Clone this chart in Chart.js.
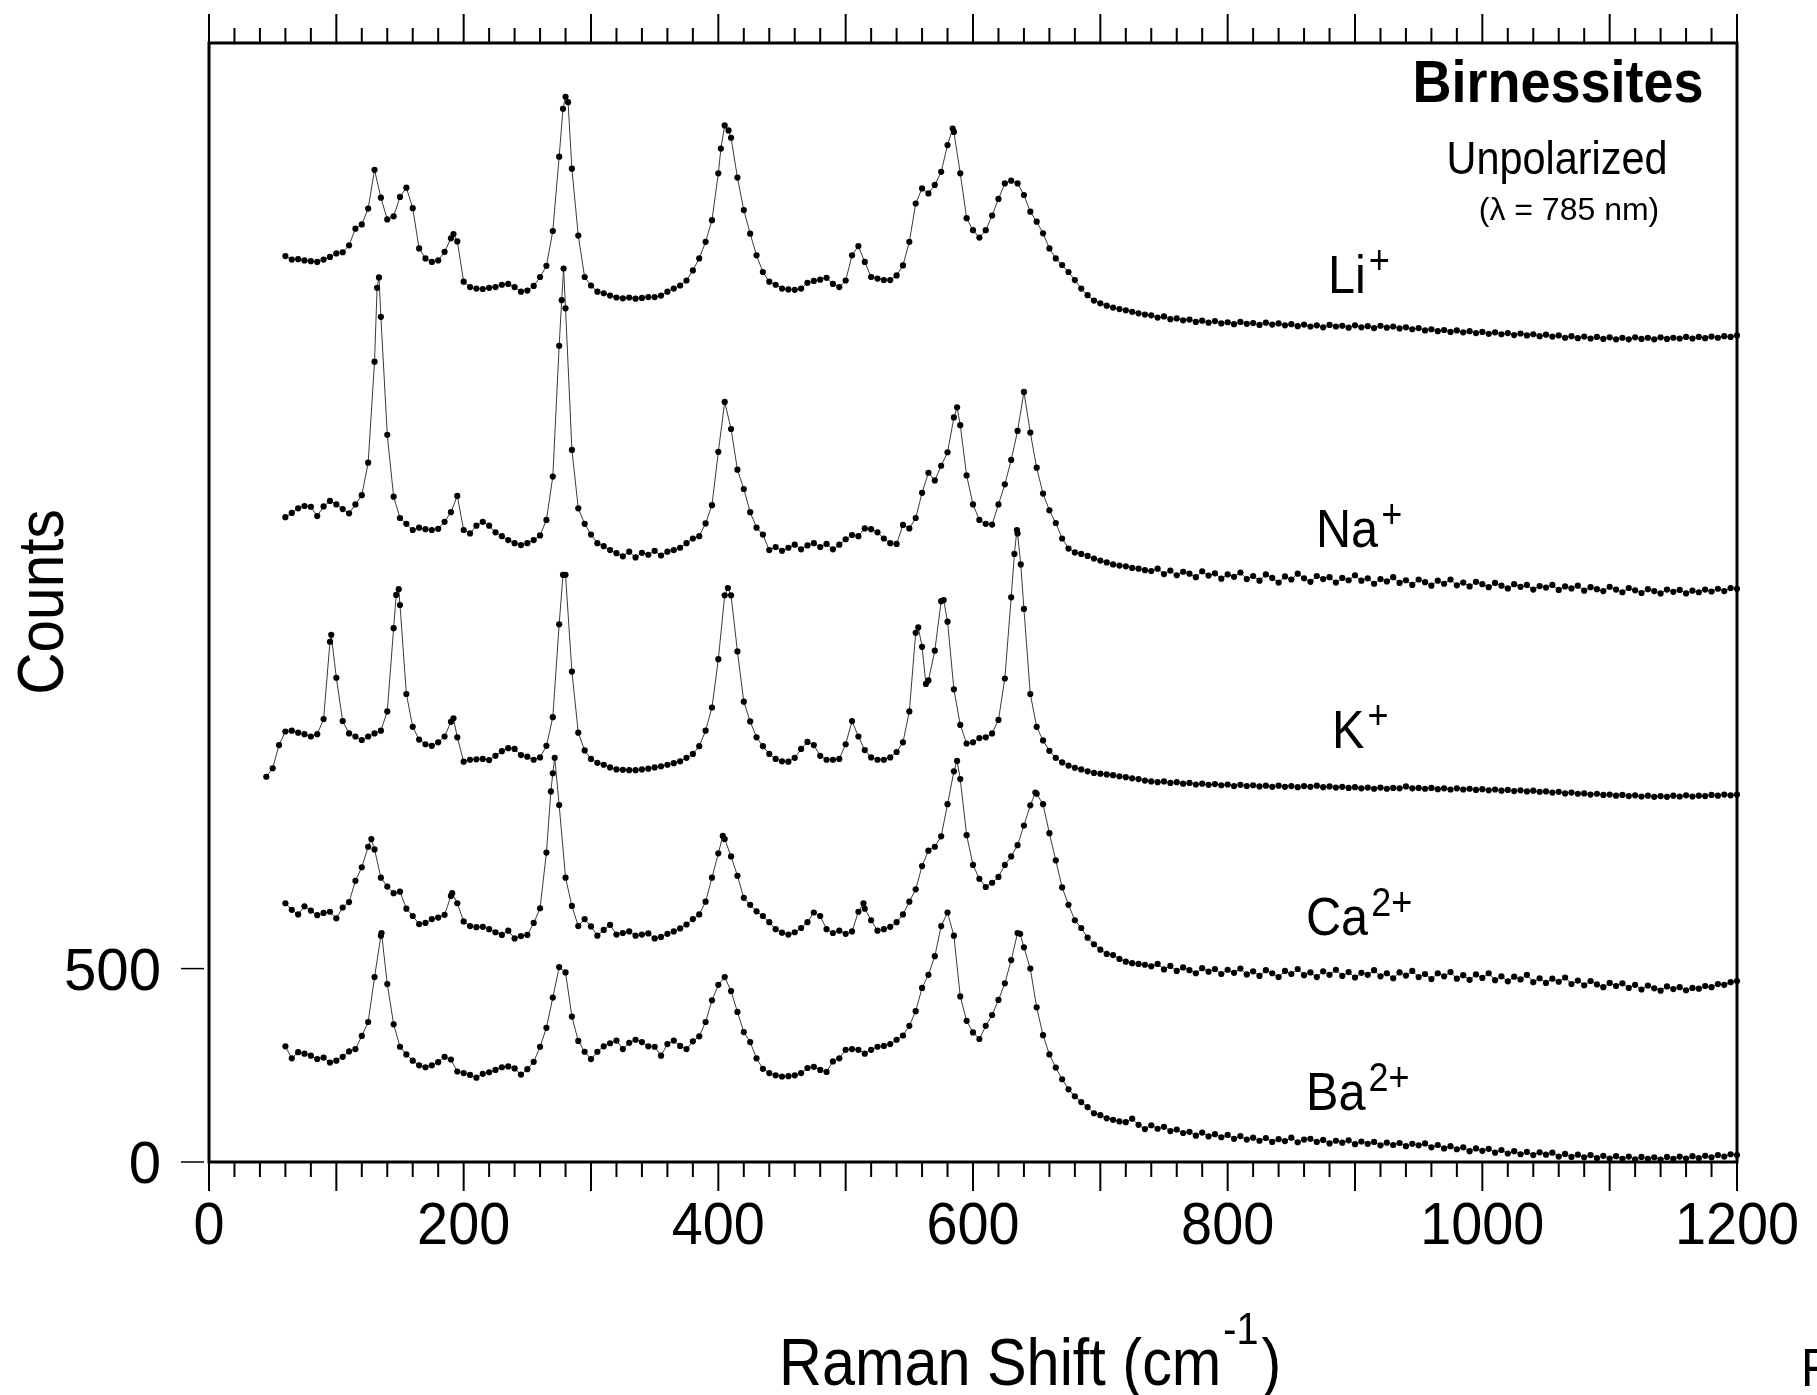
<!DOCTYPE html>
<html>
<head>
<meta charset="utf-8">
<title>Birnessites - Raman spectra</title>
<script src="https://cdn.jsdelivr.net/npm/chart.js@4.4.0/dist/chart.umd.min.js"></script>
<style>
    html, body { margin: 0; padding: 0; background: #fff; }
    canvas { display: block; }
</style>
</head>
<body>
<canvas id="ramanChart" width="1817" height="1395"></canvas>
<script>
// Raman shift grid (cm-1) shared by the five spectra
var shift = [
    60, 65, 70, 75, 80, 85, 90, 95, 100, 105, 110, 115, 120, 125, 130, 135, 140, 145, 150, 155,
    160, 165, 170, 175, 180, 185, 190, 195, 200, 205, 210, 215, 220, 225, 230, 235, 240, 245, 250, 255,
    260, 265, 270, 275, 280, 285, 290, 295, 300, 305, 310, 315, 320, 325, 330, 335, 340, 345, 350, 355,
    360, 365, 370, 375, 380, 385, 390, 395, 400, 405, 410, 415, 420, 425, 430, 435, 440, 445, 450, 455,
    460, 465, 470, 475, 480, 485, 490, 495, 500, 505, 510, 515, 520, 525, 530, 535, 540, 545, 550, 555,
    560, 565, 570, 575, 580, 585, 590, 595, 600, 605, 610, 615, 620, 625, 630, 635, 640, 645, 650, 655,
    660, 665, 670, 675, 680, 685, 690, 695, 700, 705, 710, 715, 720, 725, 730, 735, 740, 745, 750, 755,
    760, 765, 770, 775, 780, 785, 790, 795, 800, 805, 810, 815, 820, 825, 830, 835, 840, 845, 850, 855,
    860, 865, 870, 875, 880, 885, 890, 895, 900, 905, 910, 915, 920, 925, 930, 935, 940, 945, 950, 955,
    960, 965, 970, 975, 980, 985, 990, 995, 1000, 1005, 1010, 1015, 1020, 1025, 1030, 1035, 1040, 1045, 1050, 1055,
    1060, 1065, 1070, 1075, 1080, 1085, 1090, 1095, 1100, 1105, 1110, 1115, 1120, 1125, 1130, 1135, 1140, 1145, 1150, 1155,
    1160, 1165, 1170, 1175, 1180, 1185, 1190, 1195, 1200
];

// Li+ birnessite
var li = [
    2342, 2333, 2334, 2331, 2329, 2327, 2333, 2340, 2349, 2352, 2370, 2413, 2424, 2465, 2565, 2493, 2437, 2445, 2495, 2519,
    2466, 2362, 2336, 2327, 2331, 2353, 2388, 2380, 2276, 2262, 2258, 2257, 2260, 2262, 2268, 2270, 2262, 2250, 2253, 2265,
    2288, 2317, 2407, 2599, 2754, 2568, 2395, 2288, 2266, 2250, 2246, 2240, 2235, 2233, 2235, 2232, 2234, 2236, 2236, 2240,
    2250, 2258, 2266, 2279, 2305, 2336, 2379, 2435, 2556, 2680, 2648, 2545, 2461, 2400, 2344, 2301, 2276, 2268, 2258, 2256,
    2255, 2258, 2273, 2278, 2281, 2286, 2270, 2262, 2279, 2344, 2368, 2327, 2288, 2284, 2280, 2280, 2292, 2318, 2379, 2478,
    2517, 2504, 2526, 2560, 2629, 2663, 2556, 2440, 2409, 2390, 2409, 2447, 2490, 2530, 2537, 2530, 2500, 2457, 2431, 2401,
    2362, 2336, 2319, 2301, 2280, 2258, 2241, 2227, 2220, 2214, 2209, 2205, 2202, 2198, 2194, 2191, 2189, 2183, 2186, 2179,
    2181, 2176, 2178, 2172, 2175, 2170, 2174, 2168, 2171, 2166, 2172, 2167, 2169, 2164, 2170, 2165, 2168, 2163, 2166, 2161,
    2165, 2160, 2163, 2158, 2164, 2160, 2162, 2157, 2163, 2158, 2161, 2156, 2162, 2157, 2160, 2155, 2158, 2153, 2156, 2150,
    2153, 2148, 2151, 2146, 2150, 2145, 2148, 2143, 2146, 2141, 2145, 2140, 2143, 2138, 2142, 2137, 2140, 2135, 2139, 2134,
    2137, 2131, 2135, 2130, 2134, 2129, 2133, 2128, 2132, 2127, 2131, 2127, 2132, 2128, 2131, 2127, 2132, 2128, 2131, 2129,
    2133, 2129, 2133, 2130, 2134, 2131, 2135, 2133, 2137
];
var liExtra = [[192, 2399], [278, 2723], [282, 2740], [402, 2620], [408, 2667], [584, 2672]];

// Na+ birnessite
var na = [
    1667, 1678, 1690, 1696, 1694, 1670, 1695, 1709, 1700, 1688, 1677, 1700, 1724, 1808, 2069, 2185, 1880, 1720, 1665, 1650,
    1634, 1640, 1636, 1634, 1637, 1655, 1680, 1722, 1634, 1625, 1645, 1655, 1645, 1628, 1618, 1608, 1600, 1595, 1600, 1608,
    1620, 1660, 1772, 2110, 2207, 1841, 1690, 1650, 1622, 1600, 1592, 1582, 1574, 1566, 1578, 1563, 1575, 1570, 1580, 1568,
    1578, 1582, 1588, 1600, 1612, 1618, 1651, 1698, 1836, 1965, 1895, 1790, 1740, 1680, 1640, 1622, 1582, 1590, 1580, 1588,
    1596, 1584, 1594, 1600, 1590, 1598, 1584, 1596, 1610, 1621, 1618, 1638, 1636, 1628, 1612, 1600, 1598, 1647, 1638, 1665,
    1730, 1782, 1762, 1800, 1835, 1925, 1905, 1775, 1700, 1660, 1650, 1648, 1700, 1752, 1815, 1890, 1991, 1886, 1795, 1728,
    1685, 1652, 1612, 1586, 1576, 1572, 1567, 1560, 1555, 1550, 1545, 1542, 1540, 1536, 1534, 1530, 1528, 1534, 1520, 1529,
    1517, 1526, 1521, 1512, 1527, 1516, 1522, 1508, 1519, 1513, 1524, 1507, 1515, 1503, 1519, 1510, 1498, 1514, 1506, 1521,
    1509, 1500, 1515, 1507, 1512, 1498, 1510, 1504, 1517, 1503, 1509, 1495, 1507, 1501, 1512, 1497, 1504, 1492, 1506, 1499,
    1490, 1503, 1495, 1506, 1491, 1498, 1488, 1500, 1494, 1486, 1497, 1490, 1483, 1494, 1487, 1492, 1480, 1489, 1485, 1492,
    1479, 1488, 1483, 1490, 1477, 1486, 1481, 1476, 1487, 1480, 1473, 1484, 1478, 1471, 1481, 1476, 1470, 1480, 1474, 1479,
    1470, 1477, 1473, 1480, 1475, 1482, 1476, 1484, 1482
];
var naExtra = [[132, 2260], [133.5, 2287], [277, 2228], [278.5, 2310], [587.5, 1951]];

// K+ birnessite
var k = [
    1113, 1115, 1110, 1106, 1100, 1106, 1145, 1345, 1252, 1140, 1108, 1100, 1091, 1100, 1108, 1115, 1165, 1380, 1440, 1210,
    1125, 1092, 1080, 1076, 1085, 1100, 1138, 1098, 1035, 1040, 1041, 1042, 1039, 1050, 1062, 1070, 1068, 1052, 1048, 1040,
    1046, 1076, 1150, 1390, 1518, 1268, 1110, 1064, 1042, 1032, 1027, 1020, 1015, 1014, 1013, 1013, 1015, 1017, 1020, 1023,
    1027, 1031, 1036, 1045, 1055, 1075, 1115, 1175, 1300, 1465, 1465, 1320, 1190, 1139, 1098, 1075, 1055, 1042, 1036, 1035,
    1045, 1068, 1086, 1078, 1050, 1040, 1040, 1042, 1080, 1140, 1100, 1065, 1046, 1040, 1040, 1046, 1060, 1085, 1165, 1368,
    1332, 1245, 1322, 1450, 1397, 1222, 1130, 1082, 1085, 1096, 1098, 1108, 1143, 1250, 1460, 1625, 1430, 1210, 1125, 1090,
    1063, 1045, 1033, 1025, 1019, 1015, 1010, 1006, 1004, 1002, 1000, 997, 995, 992, 990, 986, 984, 982, 984, 980,
    982, 978, 980, 976, 978, 975, 977, 974, 976, 972, 975, 972, 974, 971, 973, 970, 973, 970, 972, 969,
    972, 970, 973, 969, 971, 968, 970, 967, 969, 966, 968, 965, 968, 965, 967, 966, 971, 966, 967, 965,
    967, 964, 966, 963, 966, 963, 965, 962, 964, 961, 963, 960, 962, 959, 961, 958, 960, 957, 958, 955,
    957, 953, 955, 952, 953, 950, 952, 949, 950, 947, 949, 946, 948, 945, 947, 944, 946, 944, 947, 945,
    948, 945, 947, 946, 949, 947, 950, 948, 950
];
var kExtra = [[45, 996], [50, 1018], [55, 1078], [96, 1363], [147, 1466], [149, 1481], [192, 1147], [278, 1518],
    [407.5, 1484], [557, 1382], [563, 1236], [577, 1453], [632.5, 1572], [634.5, 1634], [637.5, 1545]];

// Ca2+ birnessite
var ca = [
    669, 652, 640, 661, 650, 638, 644, 647, 630, 658, 672, 727, 762, 815, 808, 735, 712, 695, 699, 655,
    636, 615, 618, 628, 632, 639, 688, 669, 622, 610, 607, 608, 602, 594, 587, 598, 578, 584, 587, 618,
    656, 800, 1005, 923, 735, 662, 610, 628, 609, 585, 600, 613, 588, 592, 596, 585, 588, 591, 578, 582,
    590, 596, 604, 614, 628, 640, 673, 735, 798, 835, 790, 740, 683, 665, 648, 636, 620, 602, 593, 588,
    594, 605, 620, 645, 636, 602, 592, 598, 590, 596, 647, 655, 625, 598, 602, 608, 620, 640, 673, 705,
    765, 805, 815, 842, 925, 1010, 990, 845, 768, 732, 711, 722, 737, 768, 790, 819, 870, 922, 952, 925,
    850, 780, 710, 665, 625, 605, 580, 563, 549, 538, 535, 525, 518, 514, 512, 510, 506, 512, 498, 507,
    494, 503, 496, 488, 501, 492, 499, 486, 497, 489, 500, 485, 493, 481, 496, 488, 478, 494, 486, 499,
    483, 490, 478, 493, 484, 497, 481, 491, 477, 489, 484, 496, 480, 488, 475, 490, 482, 494, 478, 486,
    473, 488, 480, 491, 474, 483, 471, 485, 476, 488, 470, 480, 467, 479, 472, 484, 465, 475, 463, 474,
    466, 477, 460, 469, 457, 468, 459, 452, 463, 455, 462, 450, 458, 446, 456, 449, 443, 454, 447, 452,
    444, 450, 448, 455, 452, 460, 458, 465, 468
];
var caExtra = [[127.5, 835], [191, 695], [268.5, 958], [271.5, 1045], [403.5, 843], [514, 669], [587.5, 1037], [649, 955]];

// Ba2+ birnessite
var ba = [
    299, 268, 284, 280, 275, 266, 270, 257, 262, 272, 286, 292, 326, 362, 478, 585, 460, 356, 298, 278,
    262, 250, 245, 250, 258, 272, 265, 234, 230, 225, 218, 228, 232, 238, 245, 247, 242, 226, 240, 259,
    298, 347, 425, 504, 490, 376, 313, 285, 266, 285, 299, 307, 314, 292, 308, 316, 310, 299, 298, 275,
    305, 314, 300, 292, 312, 325, 362, 418, 458, 478, 442, 388, 336, 310, 268, 241, 230, 224, 221, 222,
    224, 230, 243, 246, 238, 233, 260, 268, 290, 292, 290, 280, 290, 298, 300, 305, 316, 327, 352, 390,
    450, 484, 532, 610, 645, 585, 428, 365, 335, 318, 352, 380, 419, 462, 522, 592, 555, 500, 400, 328,
    278, 244, 214, 188, 170, 155, 142, 126, 121, 113, 109, 105, 103, 112, 96, 85, 95, 86, 91, 80,
    84, 75, 78, 68, 76, 66, 72, 64, 70, 60, 67, 58, 63, 55, 62, 52, 59, 54, 63, 51,
    58, 60, 52, 57, 48, 55, 50, 56, 46, 53, 47, 52, 43, 50, 44, 49, 41, 47, 43, 48,
    38, 44, 35, 41, 33, 38, 28, 35, 29, 34, 24, 31, 22, 28, 20, 26, 18, 25, 19, 24,
    14, 21, 13, 19, 12, 18, 10, 16, 9, 15, 8, 14, 7, 13, 8, 12, 6, 13, 8, 14,
    9, 15, 10, 16, 12, 18, 14, 20, 18
];
var baExtra = [[135.5, 592], [637, 590]];

var ions = ['Li', 'Na', 'K', 'Ca', 'Ba'];
var charges = ['+', '+', '+', '2+', '2+'];
var xTickLabels = [0, 200, 400, 600, 800, 1000, 1200];
var yTickLabels = [0, 500];

// merge grid values with the extra points read at the peak tops
function buildPoints(values, extra) {
    var pts = shift.map(function (x, i) {
        return { x: x, y: values[i] };
    });
    extra.forEach(function (p) {
        pts.push({ x: p[0], y: p[1] });
    });
    pts.sort(function (a, b) { return a.x - b.x; });
    return pts;
}

function spectrum(values, extra) {
    return {
        data: buildPoints(values, extra),
        showLine: true,
        borderColor: '#3a3a3a',
        borderWidth: 1,
        pointRadius: 3.1,
        pointBackgroundColor: '#000',
        pointBorderWidth: 0,
        pointHoverRadius: 0,
        clip: false
    };
}

var FONT = '"Liberation Sans", Arial, sans-serif';
var SQUEEZE = 0.9;

// text slightly condensed like the original figure
function drawText(ctx, text, x, y, size, opts) {
    opts = opts || {};
    var sx = opts.sx || SQUEEZE;
    ctx.save();
    ctx.translate(x, y);
    if (opts.rotate) ctx.rotate(opts.rotate);
    ctx.scale(sx, 1);
    ctx.font = (opts.weight || 'normal') + ' ' + size + 'px ' + FONT;
    ctx.textAlign = opts.align || 'left';
    ctx.textBaseline = 'alphabetic';
    ctx.fillStyle = '#000';
    ctx.fillText(text, 0, 0);
    var w = ctx.measureText(text).width * sx;
    ctx.restore();
    return w;
}

// frame, ticks and all annotations
var decorations = {
    id: 'decorations',
    afterDatasetsDraw: function (chart) {
        var ctx = chart.ctx;
        var area = chart.chartArea;
        var xs = chart.scales.x;
        var ys = chart.scales.y;

        ctx.save();
        ctx.strokeStyle = '#000';
        ctx.lineWidth = 3;
        ctx.strokeRect(area.left, area.top, area.right - area.left, area.bottom - area.top);

        // top and bottom ticks, major every 100, minor every 20
        ctx.lineWidth = 2;
        for (var v = 0; v <= 1200; v += 20) {
            var px = xs.getPixelForValue(v);
            var len = (v % 100 === 0) ? 29 : 15;
            ctx.beginPath();
            ctx.moveTo(px, area.bottom);
            ctx.lineTo(px, area.bottom + len);
            ctx.moveTo(px, area.top);
            ctx.lineTo(px, area.top - len);
            ctx.stroke();
        }

        // short y ticks left of the frame
        ctx.lineWidth = 1.5;
        yTickLabels.forEach(function (t) {
            var py = ys.getPixelForValue(t);
            ctx.beginPath();
            ctx.moveTo(area.left - 28, py);
            ctx.lineTo(area.left - 5, py);
            ctx.stroke();
            drawText(ctx, String(t), area.left - 48, py + 21, 60, { align: 'right', sx: 0.97 });
        });
        ctx.restore();

        xTickLabels.forEach(function (t) {
            drawText(ctx, String(t), xs.getPixelForValue(t), area.bottom + 82, 60, { align: 'center', sx: 0.93 });
        });

        // axis titles
        var tx = 779;
        var ty = 1385;
        tx += drawText(ctx, 'Raman Shift (cm', tx, ty, 66);
        tx += 2;
        tx += drawText(ctx, '-1', tx, ty - 41, 44);
        drawText(ctx, ')', tx + 3, ty, 66);

        drawText(ctx, 'Counts', 63, 602, 65, { align: 'center', rotate: -Math.PI / 2 });

        // title block
        drawText(ctx, 'Birnessites', 1558, 102, 60, { align: 'center', weight: 'bold' });
        drawText(ctx, 'Unpolarized', 1557, 174, 46, { align: 'center' });
        drawText(ctx, '(\u03bb = 785 nm)', 1569, 220, 32, { align: 'center', sx: 1 });

        // ion labels next to each trace
        var labelPos = [[1328, 293], [1316, 547], [1332, 748], [1306, 935], [1306, 1110]];
        ions.forEach(function (ion, i) {
            var x0 = labelPos[i][0];
            var y0 = labelPos[i][1];
            var w = drawText(ctx, ion, x0, y0, 54);
            drawText(ctx, charges[i], x0 + w + 3, y0 - 19, 40);
        });

        // clipped letter at the lower right edge of the page
        drawText(ctx, 'F', 1801, 1386, 54);
    }
};

new Chart(document.getElementById('ramanChart').getContext('2d'), {
    type: 'scatter',
    data: {
        datasets: [
            spectrum(li, liExtra),
            spectrum(na, naExtra),
            spectrum(k, kExtra),
            spectrum(ca, caExtra),
            spectrum(ba, baExtra)
        ]
    },
    options: {
        responsive: false,
        animation: false,
        devicePixelRatio: 1,
        events: [],
        layout: {
            padding: { left: 209, right: 80, top: 43, bottom: 233 }
        },
        scales: {
            x: { type: 'linear', min: 0, max: 1200, display: false },
            y: { type: 'linear', min: 0, max: 2893, display: false }
        },
        plugins: {
            legend: { display: false },
            tooltip: { enabled: false }
        }
    },
    plugins: [decorations]
});
</script>
</body>
</html>
